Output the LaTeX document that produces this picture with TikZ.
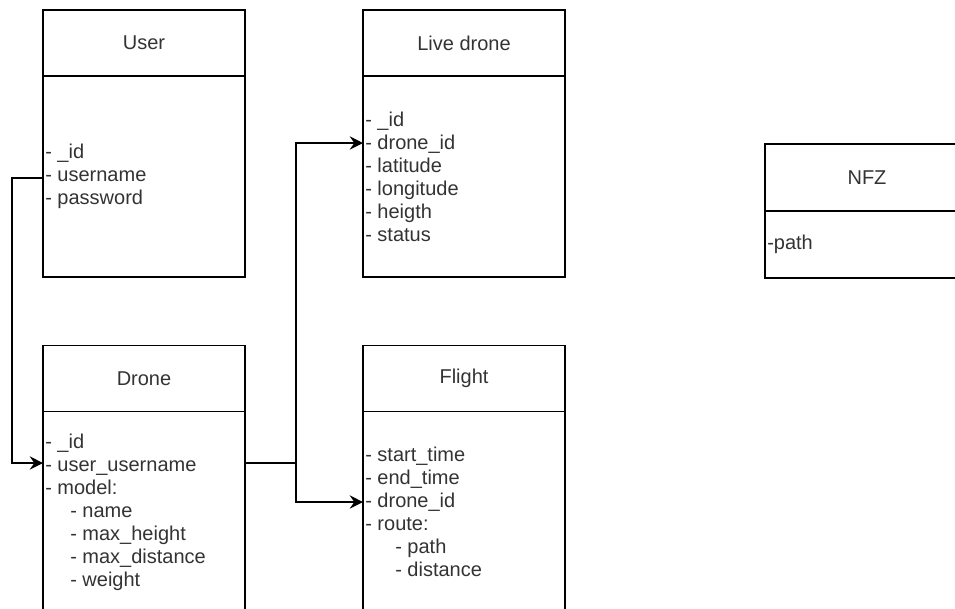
\documentclass[tikz,border=0pt]{standalone}
\usepackage{fontspec}
\setmainfont{Liberation Sans}
\usetikzlibrary{arrows.meta, positioning}

\begin{document}
\begin{tikzpicture}[
  x=0.75pt, y=-0.75pt,
  head/.style={rectangle, draw=black, line width=1.1pt, outer sep=0pt,
               minimum width=151.5pt, minimum height=49.5pt,
               font=\fontsize{15}{17.25}\selectfont, text=black!80},
  body/.style={rectangle, draw=black, line width=1.1pt, outer sep=0pt,
               minimum width=151.5pt, minimum height=150.75pt},
  attr/.style={anchor=west, align=left, inner sep=1.5pt,
               font=\fontsize{15}{17.25}\selectfont, text=black!80},
  link/.style={-{Stealth[length=10pt, width=10pt, inset=3.5pt]}, line width=1.1pt}
]
\useasboundingbox (0,0) rectangle (955,608);
\clip (0,0) rectangle (955,608);

% collections
\node[head] (user) at (144,43) {User};
\node[body, below=0pt of user] (userbody) {};
\node[attr] (userattr) at (userbody.west)
  {- \_id\\- username\\- password};

\node[head] (live) at (464,43) {Live drone};
\node[body, below=0pt of live] (livebody) {};
\node[attr] (liveattr) at (livebody.west)
  {- \_id\\- drone\_id\\- latitude\\- longitude\\- heigth\\- status};

\node[head] (drone) at (144,378.5) {Drone};
\node[body, below=0pt of drone] (dronebody) {};
\node[attr] (droneattr) at (dronebody.west)
  {- \_id\\- user\_username\\- model:\\
   \hspace*{18.75pt}- name\\\hspace*{18.75pt}- max\_height\\
   \hspace*{18.75pt}- max\_distance\\\hspace*{18.75pt}- weight};

\node[head] (flight) at (464,378.5) {Flight};
\node[body, below=0pt of flight] (flightbody) {};
\node[attr] (flightattr) at (flightbody.west)
  {- start\_time\\- end\_time\\- drone\_id\\- route:\\
   \hspace*{22.5pt}- path\\\hspace*{22.5pt}- distance};

\node[head, minimum width=153pt, minimum height=50.25pt] (nfz) at (867,177.5) {NFZ};
\node[body, minimum width=153pt, minimum height=50.25pt, below=0pt of nfz] (nfzbody) {};
\node[attr] (nfzattr) at (nfzbody.west) {-path};

% references
\coordinate (u-name)  at (userbody.west |- 0,178);
\coordinate (d-user)  at (dronebody.west |- 0,463);
\coordinate (d-out)   at (dronebody.east |- 0,463);
\coordinate (split)   at (296,463);
\coordinate (l-drone) at (livebody.west |- 0,143);
\coordinate (f-drone) at (flightbody.west |- 0,502);

\draw[link] (u-name) -- ++(-31,0) |- (d-user);
\draw[link] (d-out) -- (split) |- (l-drone);
\draw[link] (split) |- (f-drone);
\end{tikzpicture}
\end{document}
